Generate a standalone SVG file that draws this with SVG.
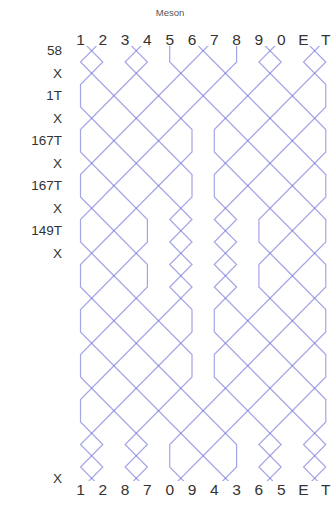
<svg xmlns="http://www.w3.org/2000/svg" width="336" height="505" viewBox="0 0 336 505">
<style>
  .ln { fill: none; stroke: rgb(110,110,215); stroke-opacity: 0.62; stroke-width: 1.2; vector-effect: non-scaling-stroke; }
  .bell { font-family: "Liberation Sans", Arial, sans-serif; font-size: 15.5px; fill: #333; text-anchor: middle; }
  .pn { font-family: "Liberation Sans", Arial, sans-serif; font-size: 13.5px; fill: #333; text-anchor: end; }
  .title { font-family: "Liberation Sans", Arial, sans-serif; font-size: 9.5px; fill: #555; text-anchor: middle; }
</style>
<defs>
  <clipPath id="gridclip"><rect x="0" y="46" width="336" height="435"/></clipPath>
</defs>
<rect width="336" height="505" fill="#fff"/>
<g id="title"><text class="title" x="170" y="16">Meson</text></g>
<g id="connectors" clip-path="url(#gridclip)">
  <g transform="translate(80.5 39.5) scale(22.3 22.5)">
    <polyline id="bell-1" class="ln" points="0,0 1,1 0,2 0,3 1,4 2,5 3,6 4,7 5,8 4,9 5,10 4,11 5,12 5,13 4,14 3,15 2,16 1,17 0,18 1,19 0,20"/>
    <polyline id="bell-2" class="ln" points="1,0 0,1 1,2 2,3 3,4 4,5 5,6 5,7 4,8 5,9 4,10 5,11 4,12 3,13 2,14 1,15 0,16 0,17 1,18 0,19 1,20"/>
    <polyline id="bell-3" class="ln" points="2,0 3,1 2,2 1,3 0,4 0,5 1,6 2,7 3,8 3,9 2,10 1,11 0,12 0,13 1,14 2,15 3,16 4,17 5,18 6,19 7,20"/>
    <polyline id="bell-4" class="ln" points="3,0 2,1 3,2 4,3 5,4 5,5 4,6 3,7 2,8 1,9 0,10 0,11 1,12 2,13 3,14 4,15 5,16 6,17 7,18 7,19 6,20"/>
    <polyline id="bell-5" class="ln" points="4,0 4,1 5,2 6,3 7,4 8,5 9,6 10,7 11,8 11,9 10,10 9,11 8,12 7,13 6,14 6,15 7,16 8,17 9,18 8,19 9,20"/>
    <polyline id="bell-6" class="ln" points="5,0 6,1 7,2 8,3 9,4 10,5 11,6 11,7 10,8 9,9 8,10 8,11 9,12 10,13 11,14 11,15 10,16 9,17 8,18 9,19 8,20"/>
    <polyline id="bell-7" class="ln" points="6,0 5,1 4,2 3,3 2,4 1,5 0,6 0,7 1,8 2,9 3,10 3,11 2,12 1,13 0,14 0,15 1,16 2,17 3,18 2,19 3,20"/>
    <polyline id="bell-8" class="ln" points="7,0 7,1 6,2 5,3 4,4 3,5 2,6 1,7 0,8 0,9 1,10 2,11 3,12 4,13 5,14 5,15 4,16 3,17 2,18 3,19 2,20"/>
    <polyline id="bell-9" class="ln" points="8,0 9,1 8,2 7,3 6,4 6,5 7,6 8,7 9,8 10,9 11,10 11,11 10,12 9,13 8,14 7,15 6,16 5,17 4,18 4,19 5,20"/>
    <polyline id="bell-0" class="ln" points="9,0 8,1 9,2 10,3 11,4 11,5 10,6 9,7 8,8 8,9 9,10 10,11 11,12 11,13 10,14 9,15 8,16 7,17 6,18 5,19 4,20"/>
    <polyline id="bell-E" class="ln" points="10,0 11,1 10,2 9,3 8,4 7,5 6,6 6,7 7,8 6,9 7,10 6,11 7,12 8,13 9,14 10,15 11,16 11,17 10,18 11,19 10,20"/>
    <polyline id="bell-T" class="ln" points="11,0 10,1 11,2 11,3 10,4 9,5 8,6 7,7 6,8 7,9 6,10 7,11 6,12 6,13 7,14 8,15 9,16 10,17 11,18 10,19 11,20"/>
  </g>
</g>
<g id="top-row">
  <text class="bell" x="80.5" y="45">1</text>
  <text class="bell" x="102.8" y="45">2</text>
  <text class="bell" x="125.1" y="45">3</text>
  <text class="bell" x="147.4" y="45">4</text>
  <text class="bell" x="169.7" y="45">5</text>
  <text class="bell" x="192" y="45">6</text>
  <text class="bell" x="214.3" y="45">7</text>
  <text class="bell" x="236.6" y="45">8</text>
  <text class="bell" x="258.9" y="45">9</text>
  <text class="bell" x="281.2" y="45">0</text>
  <text class="bell" x="303.5" y="45">E</text>
  <text class="bell" x="325.8" y="45">T</text>
</g>
<g id="bottom-row">
  <text class="bell" x="80.5" y="495">1</text>
  <text class="bell" x="102.8" y="495">2</text>
  <text class="bell" x="125.1" y="495">8</text>
  <text class="bell" x="147.4" y="495">7</text>
  <text class="bell" x="169.7" y="495">0</text>
  <text class="bell" x="192" y="495">9</text>
  <text class="bell" x="214.3" y="495">4</text>
  <text class="bell" x="236.6" y="495">3</text>
  <text class="bell" x="258.9" y="495">6</text>
  <text class="bell" x="281.2" y="495">5</text>
  <text class="bell" x="303.5" y="495">E</text>
  <text class="bell" x="325.8" y="495">T</text>
</g>
<g id="place-notation">
  <text class="pn" x="62" y="55.4">58</text>
  <text class="pn" x="62" y="77.9">X</text>
  <text class="pn" x="62" y="100.4">1T</text>
  <text class="pn" x="62" y="122.9">X</text>
  <text class="pn" x="62" y="145.4">167T</text>
  <text class="pn" x="62" y="167.9">X</text>
  <text class="pn" x="62" y="190.4">167T</text>
  <text class="pn" x="62" y="212.9">X</text>
  <text class="pn" x="62" y="235.4">149T</text>
  <text class="pn" x="62" y="257.9">X</text>
  <text class="pn" x="62" y="483">X</text>
</g>
</svg>
